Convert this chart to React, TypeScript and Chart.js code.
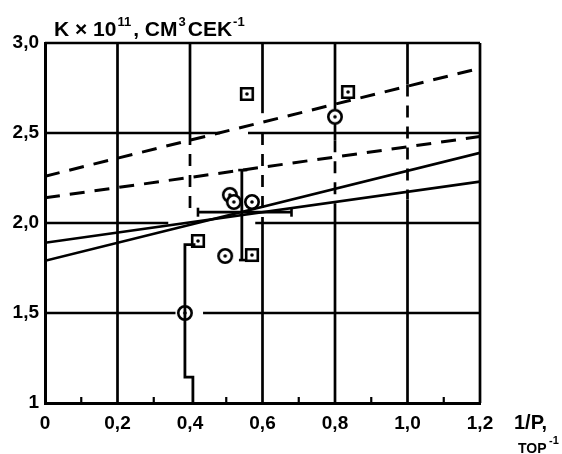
import React, { useEffect, useRef } from 'react';
import { Chart, registerables } from 'chart.js';

Chart.register(...registerables);

// ---- data ----
const circlePoints = [
  { x: 0.8, y: 2.59 },
  { x: 0.386, y: 1.5 },
  { x: 0.51, y: 2.156 },
  { x: 0.521, y: 2.117 },
  { x: 0.571, y: 2.117 },
  { x: 0.497, y: 1.817 },
];
const squarePoints = [
  { x: 0.557, y: 2.717 },
  { x: 0.836, y: 2.728 },
  { x: 0.422, y: 1.9 },
  { x: 0.571, y: 1.822 },
];
const dashedUpper = [{ x: 0, y: 2.26 }, { x: 1.2, y: 2.86 }];
const dashedLower = [{ x: 0, y: 2.14 }, { x: 1.2, y: 2.48 }];
const solidA = [{ x: 0, y: 1.89 }, { x: 1.2, y: 2.23 }];
const solidB = [{ x: 0, y: 1.79 }, { x: 1.2, y: 2.39 }];

// error bars
const barLeftVertical = [
  { x: 0.408, y: 1.0 },
  { x: 0.408, y: 1.144 },
  { x: 0.386, y: 1.144 },
  { x: 0.386, y: 1.88 },
  { x: 0.415, y: 1.88 },
];
const barCenterVertical = [{ x: 0.543, y: 1.794 }, { x: 0.543, y: 2.294 }];
const barCenterTopCap = [{ x: 0.533, y: 2.294 }, { x: 0.558, y: 2.294 }];
const barCenterBottomCap = [{ x: 0.535, y: 1.794 }, { x: 0.553, y: 1.794 }];
const barCenterHorizontal = [{ x: 0.422, y: 2.06 }, { x: 0.68, y: 2.06 }];
const barCenterLeftCap = [{ x: 0.422, y: 2.035 }, { x: 0.422, y: 2.085 }];
const barCenterRightCap = [{ x: 0.68, y: 2.035 }, { x: 0.68, y: 2.085 }];

// ticks
const xTickValues = [0, 0.2, 0.4, 0.6, 0.8, 1.0, 1.2];
const xMinorTicks = [0.1, 0.3, 0.5, 0.7, 0.9, 1.1];

// hand-drawn grid (data units): [value, from, to, dashed]
const hGrid: [number, number, number, boolean][] = [
  [3.0, 0, 1.2, false],
  [2.5, 0, 0.483, false],
  [2.5, 0.56, 1.2, false],
  [2.0, 0, 0.34, false],
  [2.0, 0.58, 1.2, false],
  [1.5, 0, 0.36, false],
  [1.5, 0.436, 1.2, false],
];
const vGrid: [number, number, number, boolean][] = [
  [0.2, 1, 3, false],
  [0.4, 2.5, 3, false],
  [0.4, 2.08, 2.5, true],
  [0.6, 2.61, 3, false],
  [0.6, 2.0, 2.5, true],
  [0.6, 1, 2.0, false],
  [0.8, 2.63, 3, false],
  [0.8, 2.46, 2.55, false],
  [0.8, 2.1, 2.46, true],
  [0.8, 1, 2.1, false],
  [1.0, 2.77, 3, false],
  [1.0, 2.13, 2.77, true],
  [1.0, 1, 2.13, false],
  [1.2, 1, 3, false],
];

const FONT = "'Liberation Sans', Arial, sans-serif";

function makeMarker(kind: 'circle' | 'square'): HTMLCanvasElement {
  const c = document.createElement('canvas');
  c.width = 20;
  c.height = 20;
  const g = c.getContext('2d')!;
  g.lineWidth = 2.6;
  g.strokeStyle = '#000';
  g.fillStyle = '#fff';
  if (kind === 'circle') {
    g.beginPath();
    g.arc(10, 10, 6.7, 0, Math.PI * 2);
    g.fill();
    g.stroke();
  } else {
    g.beginPath();
    g.rect(4.2, 4.2, 11.6, 11.6);
    g.fill();
    g.stroke();
  }
  g.fillStyle = '#000';
  g.beginPath();
  g.arc(10, 10, 1.8, 0, Math.PI * 2);
  g.fill();
  return c;
}

const fmt = (v: number) => (Math.abs(v) < 1e-9 ? '0' : v.toFixed(1).replace('.', ','));

export default function App() {
  const ref = useRef<HTMLCanvasElement | null>(null);

  useEffect(() => {
    document.body.style.margin = '0';
    const canvas = ref.current!;
    const circ = makeMarker('circle');
    const sq = makeMarker('square');

    const lineDs = (data: any[], width: number, dash: number[] = []) => ({
      type: 'scatter' as const,
      data,
      showLine: true,
      borderColor: '#000',
      borderWidth: width,
      borderDash: dash,
      pointRadius: 0,
      pointHoverRadius: 0,
      fill: false,
    });

    const gridPlugin = {
      id: 'handGrid',
      beforeDatasetsDraw(chart: any) {
        const ctx = chart.ctx;
        const xs = chart.scales.x;
        const ys = chart.scales.y;
        ctx.save();
        ctx.strokeStyle = '#000';
        ctx.lineWidth = 2.7;
        ctx.lineCap = 'butt';
        hGrid.forEach(([v, a, b, d]) => {
          ctx.setLineDash(d ? [12, 9] : []);
          const py = ys.getPixelForValue(v);
          ctx.beginPath();
          ctx.moveTo(xs.getPixelForValue(a), py);
          ctx.lineTo(xs.getPixelForValue(b), py);
          ctx.stroke();
        });
        vGrid.forEach(([v, a, b, d]) => {
          ctx.setLineDash(d ? [12, 9] : []);
          const px = xs.getPixelForValue(v);
          ctx.beginPath();
          ctx.moveTo(px, ys.getPixelForValue(b));
          ctx.lineTo(px, ys.getPixelForValue(a));
          ctx.stroke();
        });
        ctx.setLineDash([]);
        ctx.lineWidth = 2.2;
        const yb = ys.getPixelForValue(1);
        xMinorTicks.forEach((v) => {
          const px = xs.getPixelForValue(v);
          ctx.beginPath();
          ctx.moveTo(px, yb);
          ctx.lineTo(px, yb - 6);
          ctx.stroke();
        });
        ctx.restore();
      },
    };

    const textPlugin = {
      id: 'texts',
      afterDraw(chart: any) {
        const ctx = chart.ctx;
        ctx.save();
        ctx.fillStyle = '#000';
        ctx.textBaseline = 'alphabetic';
        ctx.textAlign = 'left';
        let x = 54;
        const base = 36;
        const big = `bold 21px ${FONT}`;
        const small = `bold 13px ${FONT}`;
        const parts: [string, boolean][] = [
          ['K × 10', false],
          ['11', true],
          [', CM', false],
          ['3', true],
          ['CEK', false],
          ['-1', true],
        ];
        parts.forEach(([t, sup]) => {
          ctx.font = sup ? small : big;
          ctx.fillText(t, x + (sup ? 1 : 0), sup ? base - 10 : base);
          x += ctx.measureText(t).width + (sup ? 3 : 0);
        });
        ctx.font = `bold 20px ${FONT}`;
        ctx.fillText('1/P,', 514, 429);
        ctx.font = `bold 14px ${FONT}`;
        ctx.fillText('TOP', 518, 453);
        ctx.font = `bold 11px ${FONT}`;
        ctx.fillText('-1', 549, 444);
        ctx.restore();
      },
    };

    const chart = new Chart(canvas, {
      type: 'scatter',
      data: {
        datasets: [
          lineDs(dashedUpper, 3, [15, 10]),
          lineDs(dashedLower, 3, [15, 10]),
          lineDs(solidA, 2.6),
          lineDs(solidB, 2.6),
          lineDs(barLeftVertical, 2.8),
          lineDs(barCenterVertical, 2.8),
          lineDs(barCenterTopCap, 2.6),
          lineDs(barCenterBottomCap, 2.6),
          lineDs(barCenterHorizontal, 2.8),
          lineDs(barCenterLeftCap, 2.6),
          lineDs(barCenterRightCap, 2.6),
          {
            type: 'scatter' as const,
            data: circlePoints,
            pointStyle: circ,
            pointRadius: 10,
          },
          {
            type: 'scatter' as const,
            data: squarePoints,
            pointStyle: sq,
            pointRadius: 10,
          },
        ] as any,
      },
      options: {
        animation: false,
        responsive: false,
        events: [],
        layout: { padding: { top: 43, right: 82, left: 0, bottom: 0 } },
        plugins: {
          legend: { display: false },
          tooltip: { enabled: false },
        },
        scales: {
          x: {
            type: 'linear',
            min: 0,
            max: 1.2,
            afterFit: (s: any) => {
              s.height = 51;
            },
            afterBuildTicks: (s: any) => {
              s.ticks = xTickValues.map((v) => ({ value: v }));
            },
            ticks: {
              color: '#000',
              padding: 9,
              maxRotation: 0,
              autoSkip: false,
              font: { family: FONT, size: 19, weight: 'bold' },
              callback: (v: any) => fmt(Number(v)),
            },
            grid: { display: false, drawTicks: false },
            border: { display: true, color: '#000', width: 3 },
          },
          y: {
            type: 'linear',
            min: 1,
            max: 3,
            afterFit: (s: any) => {
              s.width = 45;
            },
            ticks: {
              stepSize: 0.5,
              color: '#000',
              padding: 6,
              font: { family: FONT, size: 19, weight: 'bold' },
              callback: (v: any) => (Number(v) === 1 ? '1' : fmt(Number(v))),
            },
            grid: { display: false, drawTicks: false },
            border: { display: true, color: '#000', width: 3 },
          },
        },
      } as any,
      plugins: [gridPlugin, textPlugin],
    });
    return () => chart.destroy();
  }, []);

  return <canvas ref={ref} width={562} height={454} style={{ display: 'block' }} />;
}
